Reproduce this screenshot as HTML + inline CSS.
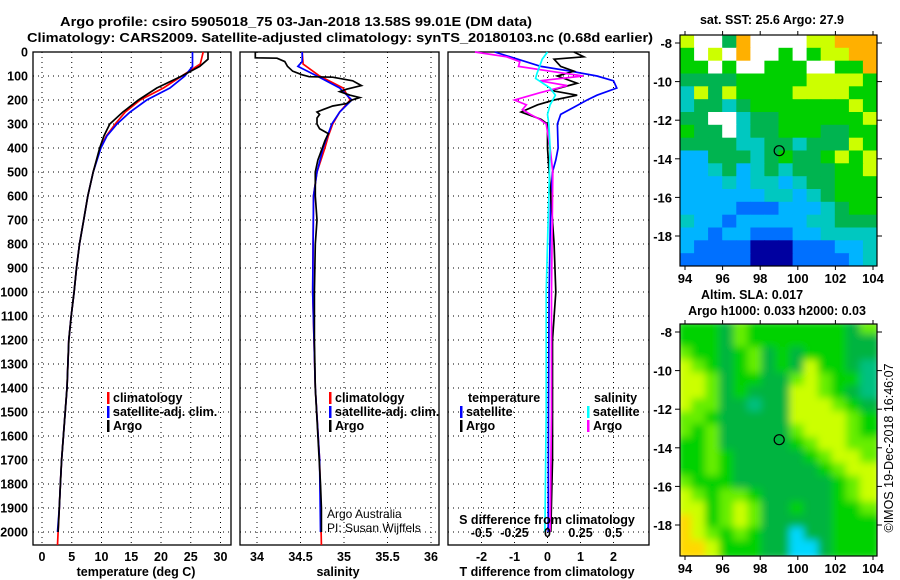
<!DOCTYPE html>
<html><head><meta charset="utf-8"><style>
html,body{margin:0;padding:0;background:#fff;}
svg{display:block;font-family:"Liberation Sans",sans-serif;}
.b{font-weight:bold;font-size:13px;fill:#000;}
.t{font-weight:bold;font-size:12.5px;fill:#000;}
.grid{stroke:#000;stroke-width:1;stroke-dasharray:1,4;}
</style></head><body>
<svg id="c" width="900" height="580" viewBox="0 0 900 580">
<text class="t" x="296" y="26" text-anchor="middle" textLength="472" lengthAdjust="spacingAndGlyphs">Argo profile: csiro 5905018_75 03-Jan-2018 13.58S 99.01E (DM data)</text>
<text class="t" x="340" y="42" text-anchor="middle" textLength="626" lengthAdjust="spacingAndGlyphs">Climatology: CARS2009. Satellite-adjusted climatology: synTS_20180103.nc (0.68d earlier)</text>
<g id="plots"></g>
<text class="t" x="772" y="24" text-anchor="middle">sat. SST: 25.6 Argo: 27.9</text>
<text class="t" x="752" y="299" text-anchor="middle">Altim. SLA: 0.017</text>
<text class="t" x="777" y="315" text-anchor="middle">Argo h1000: 0.033 h2000: 0.03</text>
<text x="893" y="448" font-size="12.5" text-anchor="middle" transform="rotate(-90 893 448)">©IMOS 19-Dec-2018 16:46:07</text>
</svg>
<script>
// ---- data ----
const tempDepth = [0,30,60,100,150,200,250,300,350,400,500,600,700,800,900,1000,1100,1200,1400,1500,1600,1700,1800,1900,2000];
const tempArgo  = [27.9,27.9,26.5,23.5,19.3,16.2,13.6,11.4,10.4,9.7,8.6,7.7,7.0,6.3,5.8,5.4,4.9,4.5,4.2,3.9,3.6,3.3,3.1,2.9,2.7];
const tempClimDepth = [0,50,100,150,200,250,300,350,400,500,600,700,800,900,1000,1100,1200,1400,1500,1600,1700,1800,1900,2000,2054];
const tempClim  = [27.1,26.6,23.5,20.4,16.5,14.0,12.3,10.8,9.8,8.6,7.7,7.0,6.3,5.8,5.4,4.9,4.5,4.2,3.9,3.6,3.3,3.1,2.9,2.7,2.6];
const tempSatDepth = [0,60,100,150,200,250,300,350,400,500,600,700,800,900,1000,1100,1200,1400,1500,1600,1700,1800,1900,2000];
const tempSat   = [25.3,25.3,24.0,21.5,17.6,14.8,12.6,10.9,9.9,8.6,7.7,7.0,6.3,5.8,5.4,4.9,4.5,4.2,3.9,3.6,3.3,3.1,2.9,2.6];

const salArgoDepth = [0,24,26,40,60,80,95,103,105,120,140,155,165,180,190,200,215,225,240,250,260,275,300,320,340,370,400,450,500,600,700,800,1000,1200,1400,1600,1800,1900,2000];
const salArgo = [33.98,33.98,34.23,34.32,34.35,34.41,34.52,34.6,34.87,35.1,35.2,35.03,34.95,35.07,35.18,35.09,35.03,34.87,34.76,34.69,34.72,34.69,34.69,34.72,34.82,34.78,34.75,34.70,34.67,34.67,34.69,34.67,34.66,34.66,34.67,34.70,34.73,34.74,34.74];
const salClimDepth = [0,50,100,150,200,250,300,350,400,500,600,1000,1400,1700,2054];
const salClim = [34.52,34.53,34.72,34.99,35.07,34.95,34.87,34.82,34.78,34.69,34.65,34.64,34.67,34.72,34.74];
const salSatDepth = [0,40,60,100,150,200,250,300,400,500,600,1000,1400,1700,2000];
const salSat = [34.52,34.52,34.47,34.69,34.95,35.09,34.95,34.86,34.76,34.69,34.65,34.64,34.67,34.72,34.73];

const dTSatDepth = [0,30,60,80,100,120,150,180,200,230,260,300,400,450,500,600,1000,1500,2000];
const dTSat = [-1.6,-0.9,-0.2,0.7,1.5,2.0,2.1,1.5,1.2,0.8,0.4,0.3,0.32,0.25,0.15,0.1,0.05,0.03,0.02];
const dTArgoDepth = [0,20,30,60,80,100,130,160,180,200,220,250,280,300,400,500,800,1000,1200,1400,1700,2000];
const dTArgo = [0.8,1.1,0.2,0.4,0.8,0.3,0.9,0.1,0.9,0.2,-0.3,-0.8,-0.2,0,0,0.05,0.2,0.25,0.15,0.15,0.15,0.1];
const dSArgoDepth = [0,20,40,60,80,100,120,140,170,200,220,240,260,280,300,400,500,1000,1500,2000];
const dSArgo = [-0.55,-0.31,-0.21,-0.22,0.02,0.27,-0.06,0.15,-0.06,-0.25,-0.16,-0.19,-0.13,-0.06,-0.01,0.02,0.04,0.03,0.03,0.02];
const dSSatDepth = [0,30,60,90,110,150,180,220,260,300,400,600,1000,1500,2000];
const dSSat = [0,-0.04,-0.06,-0.08,-0.09,0.02,0.06,0.02,0,0.01,0.02,0.01,-0.01,-0.01,-0.02];

const depthTicks = [0,100,200,300,400,500,600,700,800,900,1000,1100,1200,1300,1400,1500,1600,1700,1800,1900,2000];
const tempTicks = [0,5,10,15,20,25,30];
const salTicks = [34,34.5,35,35.5,36];
const dTTicks = [-2,-1,0,1,2];
const dSTickLabels = ["-0.5","-0.25","0","0.25","0.5"];
const lonTicks = [94,96,98,100,102,104];
const latTicks = [-8,-10,-12,-14,-16,-18];

const sstGrid = [
"YWWDOWWWWYYOOO","GWYWOWWGWGYYOO","GGWGWWGGGWWGGO","DDDDGGGGGYYYYG","TYDYGGGGYYYYGG",
"TDDTDGGGGGGGYG","DDWWTDDGGGGGGY","GDDWTDDGGGDDGG","DDDDTTDDTDDDYG","CCDDDTDGDDGYGY",
"CCTDCTDTDDDGGY","CCCTCTTCTDDGGG","CCCCCCTTCTDGGG","CCCCBBBCCCTDGG","TCCBCCCCCTTDDD",
"CCBCCBBBCCTTTT","CBBBBNNNBBBCCT","BBBBBNNNBBBBCT"];
const slaGrid = [
"GGGDLGGGGGGGDL","GGGDLGGGGGGGDD","LGGDGLDGDGGGDD","YLGDGLDGDYGGDT","YYLDGGDDLYLGGT",
"YYLDGDDDYYLGDT","YLLDDTDDYYYLGD","LLGDDDDDYYYYLG","LGLDDDDDLYYYLG","GGLDDDDDGLYYLL",
"GGLGDDDDDGLYYL","GGLGDDDDDDGLYY","LGGGDDDDDDDGLY","YLGLLGDDDDDGLY","YYGLYLDDGDDGGL",
"OYGLYLDDDDDGGG","OYLGLGDDCDDGGG","OOYGGGDDCCDGGG"];
const argoLon = 99.01, argoLat = -13.58;

// ---- drawing ----
const NS="http://www.w3.org/2000/svg";
const root=document.getElementById('plots');
function mk(tag,attrs,parent){const e=document.createElementNS(NS,tag);for(const k in attrs)e.setAttribute(k,attrs[k]);(parent||root).appendChild(e);return e;}
function txt(s,attrs,parent){const e=mk('text',attrs,parent);e.textContent=s;return e;}
const yD = d => 52 + d*0.24;
const PT={x0:33,x1:231,f:v=>42+v*5.95};
const PS={x0:240,x1:439,f:v=>257+(v-34)*87};
const PD={x0:448,x1:649,f:v=>547.5+v*33};
const fS = v => 547.5 + v*132;

function panel(P,ticks,labels,name){
  const g=mk('g',{});
  
  
  depthTicks.forEach(d=>{const l=mk('line',{x1:P.x0,x2:P.x1,y1:yD(d),y2:yD(d),class:'grid'},g);
    });
  ticks.forEach((t,i)=>{const x=P.f(t);
    const l=mk('line',{x1:x,x2:x,y1:52,y2:545,class:'grid'},g);
    
    const tl=txt(labels[i],{x:x,y:561,class:'t','text-anchor':'middle'},g);
    });
  const r=mk('rect',{x:P.x0,y:52,width:P.x1-P.x0,height:493,fill:'none',stroke:'#000','stroke-width':1.3},g);
  
  return g;
}
function series(depths,vals,f,color,name,g){
  const pts=depths.map((d,i)=>f(vals[i]).toFixed(1)+','+yD(d).toFixed(1)).join(' ');
  const p=mk('polyline',{points:pts,fill:'none',stroke:color,'stroke-width':1.7},g);
  
}
depthTicks.forEach(d=>{const l=txt(String(d),{x:28,y:yD(d)+4.5,class:'t','text-anchor':'end'});
  });

const g1=panel(PT,tempTicks,tempTicks.map(String),'temperature-panel');
series(tempClimDepth,tempClim,PT.f,'#ff0000','temp-climatology-line',g1);
series(tempSatDepth,tempSat,PT.f,'#0000ff','temp-satellite-line',g1);
series(tempDepth,tempArgo,PT.f,'#000','temp-argo-line',g1);
const g2=panel(PS,salTicks,salTicks.map(String),'salinity-panel');
series(salClimDepth,salClim,PS.f,'#ff0000','sal-climatology-line',g2);
series(salSatDepth,salSat,PS.f,'#0000ff','sal-satellite-line',g2);
series(salArgoDepth,salArgo,PS.f,'#000','sal-argo-line',g2);
const g3=panel(PD,dTTicks,dTTicks.map(String),'difference-panel');
series(dTSatDepth,dTSat,PD.f,'#0000ff','dT-satellite-line',g3);
series(dTArgoDepth,dTArgo,PD.f,'#000','dT-argo-line',g3);
series(dSArgoDepth,dSArgo,fS,'#ff00ff','dS-argo-line',g3);
series(dSSatDepth,dSSat,fS,'#00ffff','dS-satellite-line',g3);
dSTickLabels.forEach((s,i)=>{const l=txt(s,{x:PD.f(dTTicks[i]),y:537,class:'t','text-anchor':'middle'},g3);
  });
const sl=txt('S difference from climatology',{x:547,y:524,class:'t','text-anchor':'middle'},g3);


[['temperature (deg C)',136,'temp-axis-title'],['salinity',338,'salinity-axis-title'],['T difference from climatology',547,'t-diff-axis-title']].forEach(a=>{
  const l=txt(a[0],{x:a[1],y:576,class:'t','text-anchor':'middle'});
  });

function legend(x,y,color,label){
  const g=mk('g',{});
  
  mk('rect',{x:x,y:y-10,width:2.5,height:12,fill:color},g);
  txt(label,{x:x+6,y:y,class:'t'},g);
}
legend(107,402,'#ff0000','climatology');legend(107,416,'#0000ff','satellite-adj. clim.');legend(107,430,'#000','Argo');
legend(329,402,'#ff0000','climatology');legend(329,416,'#0000ff','satellite-adj. clim.');legend(329,430,'#000','Argo');
const lt=txt('temperature',{x:468,y:402,class:'t'});
const ls=txt('salinity',{x:594,y:402,class:'t'});
legend(460,416,'#0000ff','satellite');legend(460,430,'#000','Argo');
legend(587,416,'#00ffff','satellite');legend(587,430,'#ff00ff','Argo');
const c1=txt('Argo Australia',{x:327,y:518,'font-size':12});
const c2=txt('PI: Susan Wijffels',{x:327,y:532,'font-size':12});

// maps
const colsSST={W:'#ffffff',Y:'#ccff00',O:'#ffb000',G:'#00d000',D:'#00b450',T:'#00c8c0',C:'#00b4ff',B:'#0070ff',N:'#0000a0'};
const colsSLA={G:'#00d200',L:'#66ee00',Y:'#ccff00',D:'#00b440',T:'#00c080',C:'#00d8ff',O:'#ffd800'};
const lonF=v=>685+(v-94)*18.8;
function map(top,bot,grid,cols,name,blur){
  const g=mk('g',{});
  
  const latF=v=>top+8+(-8-v)*19.3;
  const cl=mk('clipPath',{id:name+'-clip'},g);mk('rect',{x:680,y:top,width:197,height:bot-top},cl);
  const cg=mk('g',{'clip-path':'url(#'+name+'-clip)'},g);
  const inner=mk('g',blur?{filter:'url(#bl)'}:{},cg);
  const nr=grid.length,nc=grid[0].length,cw=197/nc,ch=(bot-top)/nr;
  grid.forEach((row,r)=>{[...row].forEach((k,c)=>{
    const cell=mk('rect',{x:(680+c*cw-(blur?3:0)).toFixed(1),y:(top+r*ch-(blur?3:0)).toFixed(1),width:(cw+0.6+(blur?6:0)).toFixed(1),height:(ch+0.6+(blur?6:0)).toFixed(1),fill:cols[k]},inner);
    });});
  const m=mk('circle',{cx:lonF(argoLon),cy:latF(argoLat),r:5,fill:'none',stroke:'#000','stroke-width':1.2},g);
  
  mk('rect',{x:680,y:top,width:197,height:bot-top,fill:'none',stroke:'#000','stroke-width':1.2},g);
  latTicks.forEach(v=>{const y=latF(v);mk('line',{x1:877,x2:882,y1:y,y2:y,stroke:'#000'},g);mk('line',{x1:675,x2:680,y1:y,y2:y,stroke:'#000'},g);
    const l=txt(String(v),{x:672,y:y+5,class:'b','text-anchor':'end'},g);});
  lonTicks.forEach(v=>{const x=lonF(v);mk('line',{x1:x,x2:x,y1:top-4,y2:top,stroke:'#000'},g);mk('line',{x1:x,x2:x,y1:bot,y2:bot+4,stroke:'#000'},g);
    const l=txt(String(v),{x:x,y:bot+17,class:'b','text-anchor':'middle'},g);});
}
const defs=mk('defs',{});const flt=mk('filter',{id:'bl',x:'-5%',y:'-5%',width:'110%',height:'110%'},defs);mk('feGaussianBlur',{stdDeviation:4},flt);
map(35,266,sstGrid,colsSST,'sst-map',false);
map(324,556,slaGrid,colsSLA,'sla-map',true);
</script>
</body></html>
